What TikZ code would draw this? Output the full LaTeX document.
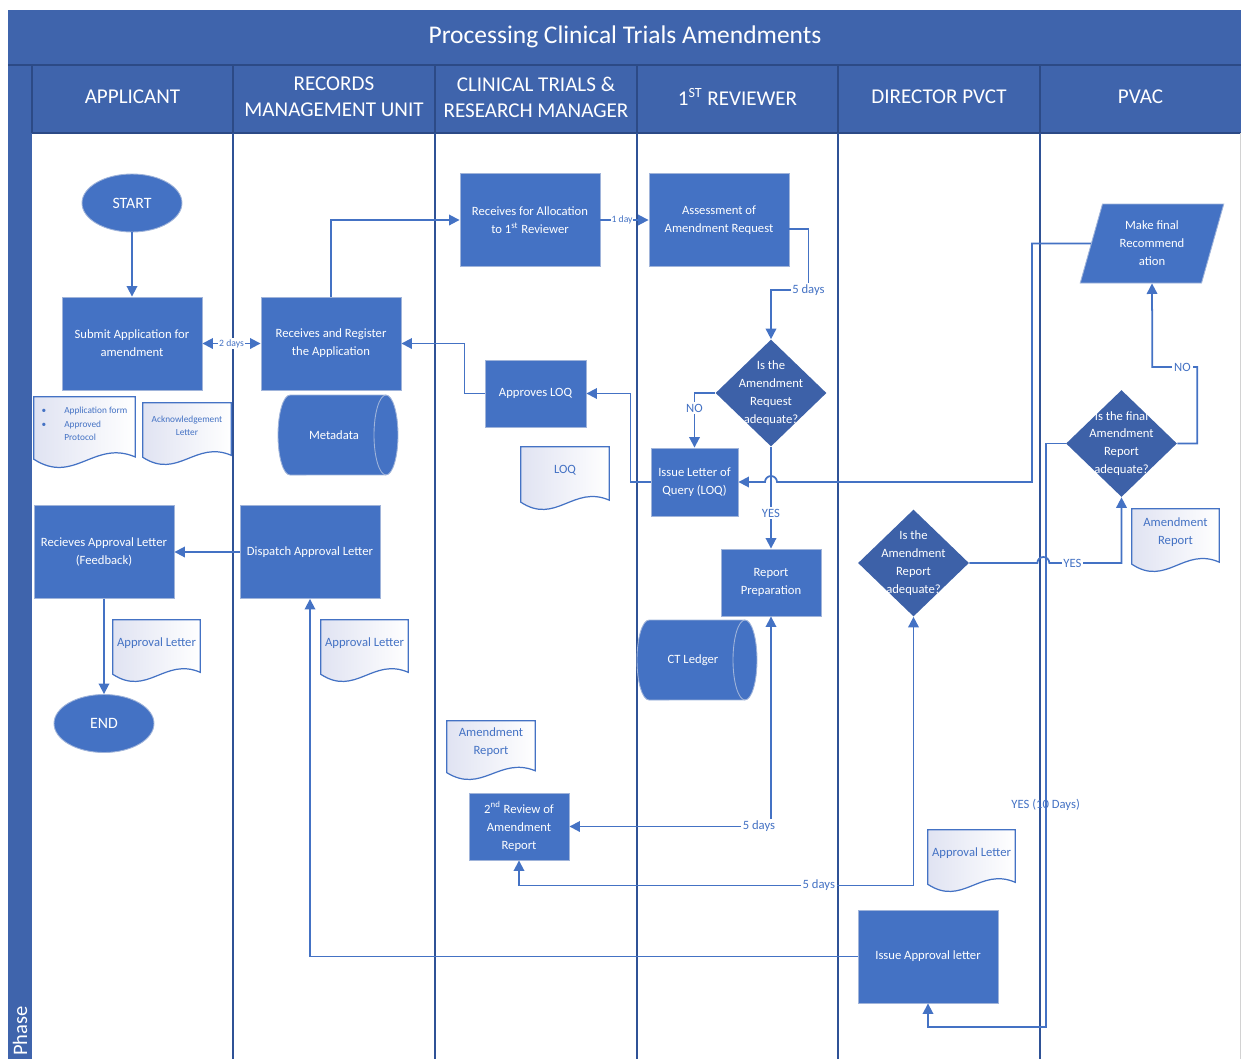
\documentclass[tikz,border=0pt]{standalone}
\usepackage{fontspec}
\setmainfont{Carlito}
\usepackage{tikz}
\usetikzlibrary{shapes.geometric, arrows.meta, calc}

\definecolor{hdrblue}{RGB}{63,100,172}
\definecolor{hdrline}{RGB}{44,74,134}
\definecolor{boxblue}{RGB}{68,114,196}
\definecolor{boxedge}{RGB}{160,180,218}
\definecolor{decblue}{RGB}{61,97,168}
\definecolor{lineblue}{RGB}{68,114,196}
\definecolor{laneblue}{RGB}{47,82,150}
\definecolor{docshade}{RGB}{224,227,242}

\tikzset{
  proc/.style={rectangle, fill=boxblue, draw=boxedge, line width=0.5pt, text=white, align=center,
    font=\fontsize{7.2}{10.2}\selectfont, minimum width=2.8cm, minimum height=1.86cm, inner sep=1pt},
  procsmall/.style={proc, minimum width=2cm, minimum height=1.34cm},
  terminal/.style={ellipse, fill=boxblue, draw=boxedge, line width=0.5pt, text=white,
    font=\fontsize{9}{11}\selectfont, minimum width=2cm, minimum height=1.16cm, inner sep=0pt},
  decision/.style={diamond, fill=decblue, minimum width=2.22cm, minimum height=2.14cm, inner sep=0pt},
  dectext/.style={text=white, align=center, font=\fontsize{7.2}{10.2}\selectfont},
  slant/.style={trapezium, trapezium left angle=72, trapezium right angle=108, trapezium stretches=true,
    fill=boxblue, draw=boxedge, line width=0.5pt, text=white, align=center,
    font=\fontsize{7.2}{10.2}\selectfont, minimum width=2.88cm, minimum height=1.58cm, inner sep=0pt},
  storeedge/.style={fill=boxblue, draw=boxedge, line width=0.5pt},
  storetext/.style={rectangle, text=white, inner sep=0pt, font=\fontsize{7.2}{10.2}\selectfont},
  docnote/.style={rectangle, inner sep=0pt},
  docedge/.style={draw=lineblue, line width=0.7pt, left color=docshade, right color=white},
  doctext/.style={text=lineblue, align=center, font=\fontsize{7.2}{10.2}\selectfont},
  flow/.style={draw=lineblue, line width=1pt, -{Triangle[width=6pt,length=6pt]}},
  flowboth/.style={flow, {Triangle[width=6pt,length=6pt]}-{Triangle[width=6pt,length=6pt]}},
  tag/.style={fill=white, text=lineblue, inner sep=1pt, font=\fontsize{7.2}{8}\selectfont},
  tinytag/.style={tag, inner sep=0.5pt, font=\fontsize{5.5}{6}\selectfont},
  plaintag/.style={text=lineblue, inner sep=1pt, font=\fontsize{7.2}{8}\selectfont},
  hdrtext/.style={text=white, align=center, font=\fontsize{12}{14.7}\selectfont},
  hdrsep/.style={draw=hdrline, line width=0.9pt},
  lane/.style={draw=laneblue, line width=0.9pt},
}

% document sheet: [text options] name, centre, width and height (px), text
\newcommand{\docsheet}[6][]{%
  \node[docnote, minimum width=#4*0.02cm, minimum height=#5*0.02cm] (#2) at (#3) {};
  \path[docedge] (#2.north west) -- (#2.north east) -- ($(#2.north east)+(0,0.85*#5)$)
    .. controls ($(#2.north west)+(0.6*#4,0.6*#5)$) and ($(#2.north west)+(0.4*#4,1.25*#5)$)
    .. ($(#2.north west)+(0,0.88*#5)$) -- cycle;
  \node[doctext, #1] (#2t) at ([yshift=0.16cm]#2.center) {#6};
}

% stored data drum lying on its side: name, centre, width and height (px), text
\newcommand{\drumsheet}[5]{%
  \coordinate (#1c) at (#2);
  \path[storeedge] ($(#1c)+(-#3/2+12,-#4/2)$) -- ($(#1c)+(#3/2-12,-#4/2)$)
    arc[start angle=90, end angle=-90, x radius=0.24cm, y radius=#4*0.01cm]
    -- ($(#1c)+(-#3/2+12,#4/2)$)
    arc[start angle=270, end angle=90, x radius=0.24cm, y radius=#4*0.01cm] -- cycle;
  \draw[boxedge, line width=0.5pt] ($(#1c)+(#3/2-12,-#4/2)$)
    arc[start angle=90, end angle=270, x radius=0.24cm, y radius=#4*0.01cm];
  \node[storetext, minimum width=#3*0.02cm, minimum height=#4*0.02cm] (#1) at ($(#1c)+(-4,0)$) {#5};
}

\begin{document}
\begin{tikzpicture}[x=0.02cm, y=-0.02cm]
    \useasboundingbox (0,0) rectangle (1241,1059);

    % Title bar, lane headers and phase strip
    \fill[hdrblue] (8,10) rectangle (1241,133);
    \fill[hdrblue] (8,133) rectangle (32,1059);
    \draw[hdrsep] (8,65) -- (1241,65);
    \draw[hdrsep] (32,133) -- (1241,133);
    \foreach \x in {32,233,435,637,838,1040} {
        \draw[hdrsep] (\x,65) -- (\x,133);
    }
    \foreach \x in {233,435,637,838,1040} {
        \draw[lane] (\x,133) -- (\x,1059);
    }
    \draw[gray!35, line width=0.6pt] (1240.5,133) -- (1240.5,1059);

    \node[text=white, font=\fontsize{14.5}{16}\selectfont] (title) at (625,37) {Processing Clinical Trials Amendments};
    \foreach \x/\lab [count=\i] in {132.5/APPLICANT, 334/{RECORDS\\MANAGEMENT UNIT},
        536/{CLINICAL TRIALS \&\\RESEARCH MANAGER}, 737.5/{1\textsuperscript{ST} REVIEWER},
        939/DIRECTOR PVCT, 1140.5/PVAC} {
        \node[hdrtext] (hdr\i) at (\x,97) {\lab};
    }
    \node[rotate=90, text=white, font=\fontsize{11.7}{12}\selectfont] (phase) at (20,1031) {Phase};

    % Applicant
    \node[terminal] (start) at (132,203) {START};
    \node[proc] (submit) at (132,343.5) {Submit Application for\\amendment};
    \docsheet[font=\fontsize{5.3}{7.6}\selectfont]{appdoc}{84.5,432.5}{101}{71}{%
        \begin{tabular}{@{}l@{\hspace{3.6mm}}l@{}}\textbullet & Application form\\ \textbullet & Approved\\ & Protocol\end{tabular}}
    \docsheet[font=\fontsize{5.3}{7.2}\selectfont]{ackdoc}{187,434}{88}{62}{Acknowledgement\\Letter}
    \node[proc] (feedback) at (104,552) {Recieves Approval Letter\\(Feedback)};
    \docsheet{aldocA}{156.5,651}{87}{62}{Approval Letter}
    \node[terminal] (finish) at (104,723.5) {END};

    % Records management unit
    \node[proc] (register) at (331,343.5) {Receives and Register\\the Application};
    \drumsheet{metadata}{338,435}{120}{80}{Metadata}
    \node[proc] (dispatch) at (310,552) {Dispatch Approval Letter};
    \docsheet{aldocB}{364.5,651}{87}{62}{Approval Letter}

    % Clinical trials and research manager
    \node[proc] (alloc) at (530,220) {Receives for Allocation\\to 1\textsuperscript{st} Reviewer};
    \node[procsmall, minimum width=2.02cm] (approve) at (535.5,393.5) {Approves LOQ};
    \docsheet{loqdoc}{565,478.5}{88}{63}{LOQ}
    \docsheet{ardocA}{491,750.5}{88}{59}{Amendment\\Report}
    \node[procsmall] (review) at (519,826.5) {2\textsuperscript{nd} Review of\\Amendment\\Report};

    % First reviewer
    \node[proc] (assess) at (719,220) {Assessment of\\Amendment Request};
    \node[decision, label={[dectext]center:{Is the\\Amendment\\Request\\adequate?}}] (dreq) at (771,393) {};
    \node[procsmall, minimum width=1.74cm, minimum height=1.36cm] (loq) at (694.5,482) {Issue Letter of\\Query (LOQ)};
    \node[procsmall] (prep) at (771,582.5) {Report\\Preparation};
    \drumsheet{ledger}{697,660}{120}{80}{CT Ledger}

    % Director PVCT
    \node[decision, label={[dectext]center:{Is the\\Amendment\\Report\\adequate?}}] (drep) at (913.5,563) {};
    \docsheet{aldocC}{971.5,861}{87}{62}{Approval Letter}
    \node[proc] (issue) at (928,956.5) {Issue Approval letter};

    % PVAC
    \node[slant] (recommend) at (1152,243.5) {Make final\\Recommend\\ation};
    \node[decision, label={[dectext]center:{Is the final\\Amendment\\Report\\adequate?}}] (dfinal) at (1121.5,443.5) {};
    \docsheet{ardocB}{1175.5,540.5}{87}{63}{Amendment\\Report};

    % Connectors
    \draw[flow] (start) -- (submit);
    \draw[flowboth] (submit) -- node[tinytag]{2 days} (register);
    \draw[flow] (register.north) |- (alloc.west);
    \draw[flow] (alloc.east) -- node[tinytag, pos=0.45]{1 day} (assess.west);
    \draw[flow] ([yshift=-0.18cm]assess.east) -- ++(19,0) -- ++(0,61) node[tag]{5 days} -| (dreq.north);
    \draw[flow] (dreq.west) -| node[tag, pos=0.64]{NO} (loq.north);
    \draw[flow] (dreq.south) -- node[tag, pos=0.65]{YES} (prep.north);
    \draw[flow] (loq.west) -- ++(-20,0) |- (approve.east);
    \draw[flow] (approve.west) -- ++(-20,0) |- (register.east);
    \draw[flow] (recommend.west) -- ++(-59,0) |- ($(dreq.south |- loq.east)+(6,0)$)
        arc[start angle=0, end angle=180, radius=0.12cm] -- (loq.east);
    \draw[flow] (dfinal.east) -- ++(20,0) -- ++(0,-76.5) -- node[tag, pos=0.33]{NO} ++(-45,0) -- (recommend.south);
    \draw[flow] (drep.east) -- ($(drep.east)+(68,0)$) arc[start angle=180, end angle=0, radius=0.12cm]
        -- node[tag, pos=0.32]{YES} (dfinal.south |- drep.east) -- (dfinal.south);
    \draw[flow] (dfinal.west) -- ++(-20,0) -- node[plaintag, pos=0.62]{YES (10 Days)} ++(0,583.5) -| (issue.south);
    \draw[flow] (issue.west) -| (dispatch.south);
    \draw[flow] (dispatch.west) -- (feedback.east);
    \draw[flow] (feedback.south) -- (finish.north);
    \draw[flowboth] (review.east) -| node[tag, pos=0.47]{5 days} (prep.south);
    \draw[flowboth] (review.south) -- ++(0,25) -| node[tag, pos=0.38]{5 days} (drep.south);
\end{tikzpicture}
\end{document}
